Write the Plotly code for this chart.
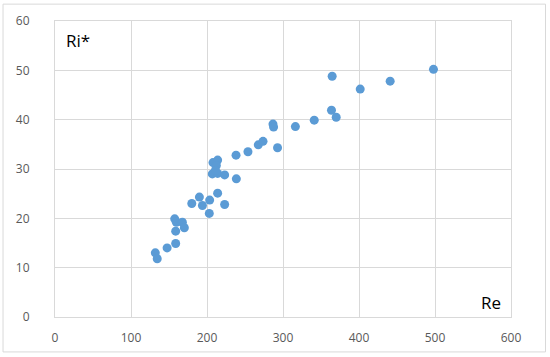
import plotly.graph_objects as go

# Re vs Ri* values
re_vals = [132, 134.5, 147.5, 158.8, 158.8, 157.5, 159.7, 167.6, 170.2,
           180, 190, 194, 203.5, 203, 214, 223.2, 207, 214, 223.2,
           207.9, 214, 212.3, 211, 238.6, 238.2, 253.9, 267.5, 273.7,
           286.8, 287.6, 292.8, 316.3, 341.1, 363.8, 370, 364.7,
           401.6, 441, 498]
ri_vals = [13.0, 11.8, 14.0, 14.9, 17.4, 19.9, 19.2, 19.2, 18.1,
           23.0, 24.3, 22.6, 23.7, 21.0, 25.1, 22.8, 29.0, 29.1, 28.8,
           31.3, 31.8, 30.7, 29.7, 28.0, 32.8, 33.5, 34.9, 35.6,
           39.1, 38.5, 34.3, 38.6, 39.9, 41.9, 40.5, 48.8,
           46.2, 47.8, 50.2]

x_ticks = [0, 100, 200, 300, 400, 500, 600]
y_ticks = [0, 10, 20, 30, 40, 50, 60]

grid = "#D9D9D9"
tick_font = dict(family="Open Sans", size=12, color="#595959")

fig = go.Figure()
fig.add_trace(go.Scatter(x=re_vals, y=ri_vals, mode="markers",
                         marker=dict(size=9, color="#5B9BD5"),
                         showlegend=False))

fig.update_layout(
    width=550, height=357,
    margin=dict(l=55, r=39, t=21, b=40),
    paper_bgcolor="white", plot_bgcolor="white",
    xaxis=dict(range=[0, 600], tickvals=x_ticks, showgrid=True, gridcolor=grid,
               zeroline=False, showline=True, linecolor=grid, mirror=True,
               ticks="", tickfont=tick_font, ticklabelstandoff=10,
               automargin=False),
    yaxis=dict(range=[0, 60], tickvals=y_ticks, showgrid=True, gridcolor=grid,
               zeroline=False, showline=True, linecolor=grid, mirror=True,
               ticks="", tickfont=tick_font, ticklabelstandoff=22,
               automargin=False),
    annotations=[
        dict(text="Ri*", x=0.02, y=0.933, xref="paper", yref="paper",
             xanchor="left", yanchor="middle", showarrow=False,
             font=dict(family="Open Sans", size=17, color="black")),
        dict(text="Re", x=0.982, y=0.05, xref="paper", yref="paper",
             xanchor="right", yanchor="middle", showarrow=False,
             font=dict(family="Open Sans", size=17, color="black")),
    ],
    shapes=[dict(type="rect", xref="paper", yref="paper",
                 x0=-0.114, x1=1.0757, y0=-0.118, y1=1.057,
                 line=dict(color=grid, width=1))],
)

# drop the default page margin so the figure sits at the window corner
fig.write_html("out.html", config={"displayModeBar": False},
               post_script="document.body.style.margin='0';")
